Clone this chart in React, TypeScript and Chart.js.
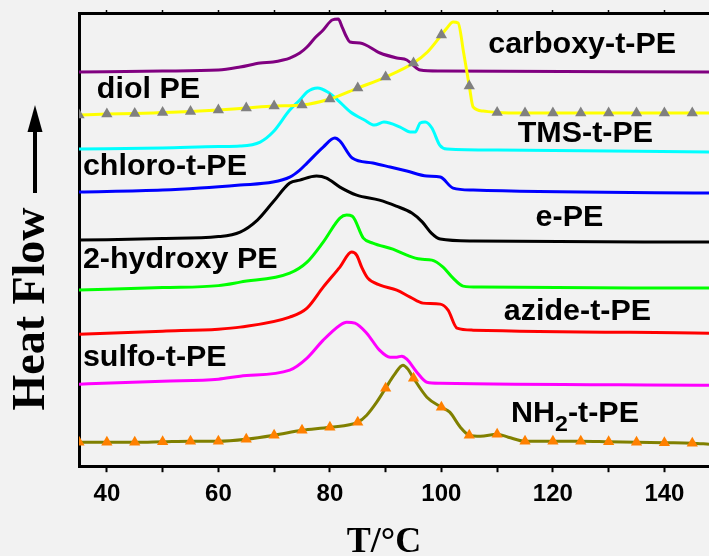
import React, { useEffect, useRef } from 'react';
import { Chart, registerables } from 'chart.js';

Chart.register(...registerables);

type Pt = [number, number];

// T (°C) vs heat flow (arbitrary, stacked offsets)
const carboxyTPE: Pt[] = [[35,394],[50,395],[60,396],[63.9,399],[67.5,403],[69.8,404],[71.6,406],[72.8,408],[74.6,413],[75.9,419],[77.3,428],[78.8,436],[80.4,446],[81.5,447],[82.2,439],[82.9,430],[83.6,424],[85.4,423],[89,413],[92,408],[93.8,406],[94.9,401],[96.2,396],[99.8,395],[148,394]];
const diolPE: Pt[] = [[35,351],[40,352],[45,352.5],[50,353.5],[55,354.5],[60,356],[65,358],[70,360],[75,361],[80,367],[85,378],[90,389],[95,403],[97.5,414],[100,431],[101,438],[102.1,444],[103,443],[104,413],[105,380],[105.7,359],[107.5,355],[110,353.5],[115,353],[120,353],[125,353],[130,353],[135,353],[140,353],[145,353],[148,353]];
const tmsTPE: Pt[] = [[35,317],[50,318],[60,319.5],[63.9,320],[67.5,324],[69.8,334],[72.8,356],[74.6,366],[75.9,374],[77.8,378],[79.6,374],[81.4,366],[83.7,354],[86.2,346],[88,341],[89.7,344],[92.6,339],[94.4,334],[95.3,334],[96.2,343],[97.1,344],[98.3,338],[99.7,321],[101,317],[110,316],[148,314]];
const chloroTPE: Pt[] = [[35,274],[50,276],[56.7,278],[63.9,281],[69.8,284],[72.8,289],[74.6,296],[75.9,303],[78.8,319],[80.9,328],[81.8,325],[84,308],[87.7,303],[90.8,299],[93.8,295],[97.4,290],[99.8,289],[102.1,278],[105.7,276],[148,273]];
const ePE: Pt[] = [[35,226],[50,227.5],[60,229.5],[63.9,234],[67,246],[69.8,264],[72.8,283],[74.6,286],[77.6,290],[79.4,288],[81.8,279],[84.8,271],[88.9,266],[91.9,260],[94.7,253],[96.6,244],[98.2,233],[99.8,227],[105.7,225],[148,224]];
const hydroxyPE: Pt[] = [[35,176],[50,178.5],[60,180.5],[63.9,184],[72.8,193],[75.9,204],[78.8,224],[81.8,248],[83,251],[84,250],[86,228],[87.7,223],[91.3,217],[93.8,211],[96.2,207],[98.3,206],[100.3,199],[102.1,188],[103.9,180],[107,179],[148,178]];
const azideTPE: Pt[] = [[35,132],[50,135],[60,137],[63.9,139],[72.8,149],[75.9,158],[78.8,179],[81.8,199],[83.9,214],[84.8,211],[85.7,199],[86.8,188],[89,181],[92,176],[94.4,169],[96.7,163],[99.8,162],[101.2,156],[102.8,138],[105.7,136],[148,133]];
const sulfoTPE: Pt[] = [[35,82],[50,85],[60,87],[63.9,90],[72.8,96],[75.9,108],[78.8,126],[81.8,141],[83,144],[84.5,143],[86.6,133],[88.9,116],[90.8,109],[92,109],[92.9,110],[93.8,107],[95.6,94],[97.4,84],[99.8,83],[148,81]];
const nh2TPE: Pt[] = [[35,24],[40,24],[45,24],[50,24.5],[55,25],[60,25],[65,27],[70,31],[75,36],[80,39],[85,44],[86.6,51],[88.4,64],[90,78],[91.5,91],[93.1,101],[94,97],[95,88],[97.4,69],[100,59],[101.5,54],[103.4,39],[105,31],[107,30],[110,32],[112,29],[115,25],[120,25],[125,25],[130,24.5],[135,24],[140,23.5],[145,23],[148,22]];

const xLabelTicks = [40, 60, 80, 100, 120, 140];
const xRange = [35, 148];
const yRange = [0, 453];

const seriesNames = ['carboxy-t-PE', 'diol PE', 'TMS-t-PE', 'chloro-t-PE', 'e-PE', '2-hydroxy PE', 'azide-t-PE', 'sulfo-t-PE', 'NH2-t-PE'];
const seriesData = [carboxyTPE, diolPE, tmsTPE, chloroTPE, ePE, hydroxyPE, azideTPE, sulfoTPE, nh2TPE];
const seriesColors = ['#800080', '#ffff00', '#00ffff', '#0000ff', '#000000', '#00ff00', '#ff0000', '#ff00ff', '#808000'];
const markerColors: (string | null)[] = [null, '#808080', null, null, null, null, null, null, '#ff8000'];

// curve label anchors (left x in °C, baseline in heat-flow units)
const curveLabels = [
  { parts: [{ t: 'carboxy-t-PE' }], x: 108.4, y: 413 },
  { parts: [{ t: 'diol PE' }], x: 38.2, y: 368 },
  { parts: [{ t: 'TMS-t-PE' }], x: 113.7, y: 324 },
  { parts: [{ t: 'chloro-t-PE' }], x: 35.7, y: 291 },
  { parts: [{ t: 'e-PE' }], x: 116.9, y: 240 },
  { parts: [{ t: '2-hydroxy PE' }], x: 35.7, y: 198 },
  { parts: [{ t: 'azide-t-PE' }], x: 111.2, y: 146 },
  { parts: [{ t: 'sulfo-t-PE' }], x: 35.7, y: 100 },
  { parts: [{ t: 'NH' }, { t: '2', sub: true }, { t: '-t-PE' }], x: 112.5, y: 44 },
];
const LABEL_SIZE = 29;
const LABEL_STRETCH = 1.05;

const SANS = '"Liberation Sans", Arial, sans-serif';
const SERIF = '"Liberation Serif", "Times New Roman", serif';

const decor = {
  id: 'decor',
  beforeDraw(chart: any) {
    const { ctx, width, height } = chart;
    ctx.save();
    ctx.fillStyle = '#f2f2f2';
    ctx.fillRect(0, 0, width, height);
    ctx.restore();
  },
  afterDraw(chart: any) {
    const { ctx } = chart;
    const xs = chart.scales.x;
    const ys = chart.scales.y;
    ctx.save();
    ctx.fillStyle = '#000';
    ctx.textBaseline = 'alphabetic';
    ctx.textAlign = 'left';
    for (const l of curveLabels) {
      const px0 = xs.getPixelForValue(l.x);
      const py = ys.getPixelForValue(l.y);
      ctx.save();
      ctx.translate(px0, py);
      ctx.scale(LABEL_STRETCH, 1);
      let px = 0;
      for (const p of l.parts as any[]) {
        const size = p.sub ? Math.round(LABEL_SIZE * 0.75) : LABEL_SIZE;
        ctx.font = `bold ${size}px ${SANS}`;
        ctx.fillText(p.t, px, p.sub ? 9 : 0);
        px += ctx.measureText(p.t).width;
      }
      ctx.restore();
    }
    // x title
    ctx.font = `bold 36px ${SERIF}`;
    ctx.textAlign = 'center';
    ctx.fillText('T/°C', 384, 552);
    // y title
    ctx.save();
    ctx.translate(44, 309);
    ctx.rotate(-Math.PI / 2);
    ctx.font = `bold 46px ${SERIF}`;
    ctx.textAlign = 'center';
    ctx.fillText('Heat Flow', 0, 0);
    ctx.restore();
    // arrow
    ctx.fillRect(33, 126, 4, 67);
    ctx.beginPath();
    ctx.moveTo(35, 105);
    ctx.lineTo(42.5, 132);
    ctx.lineTo(27.5, 132);
    ctx.closePath();
    ctx.fill();
    ctx.restore();
  },
};

const noSidePadding = (s: any) => {
  s.paddingLeft = 0;
  s.paddingRight = 0;
};

export default function App() {
  const ref = useRef<HTMLCanvasElement | null>(null);
  useEffect(() => {
    document.body.style.margin = '0';
    document.body.style.background = '#f2f2f2';
    const canvas = ref.current;
    if (!canvas) return;
    const datasets = seriesData.map((d, i) => ({
      label: seriesNames[i],
      data: d.map(([x, y]) => ({ x, y })),
      borderColor: seriesColors[i],
      backgroundColor: markerColors[i] || seriesColors[i],
      borderWidth: 3,
      cubicInterpolationMode: 'monotone' as const,
      pointStyle: 'triangle' as const,
      pointBackgroundColor: markerColors[i] || seriesColors[i],
      pointBorderWidth: 0,
      pointRadius: markerColors[i]
        ? (c: any) => (c.raw && Math.abs(c.raw.x % 5) < 1e-6 ? 6.5 : 0)
        : 0,
      pointHoverRadius: 0,
      fill: false,
      order: markerColors[i] ? 0 : 1,
    }));
    const chart = new Chart(canvas, {
      type: 'line',
      data: { datasets },
      options: {
        animation: false,
        responsive: false,
        devicePixelRatio: 1,
        layout: { autoPadding: false, padding: { left: 79, top: 10, right: 0, bottom: 39 } },
        plugins: { legend: { display: false }, tooltip: { enabled: false } },
        scales: {
          x: {
            type: 'linear',
            position: 'bottom',
            min: xRange[0],
            max: xRange[1],
            afterFit: noSidePadding,
            grid: { display: true, drawOnChartArea: false, drawTicks: true, tickLength: 6, tickWidth: 2, tickColor: '#000' },
            border: { display: true, color: '#000', width: 3 },
            ticks: {
              stepSize: 10,
              includeBounds: false,
              autoSkip: false,
              maxRotation: 0,
              padding: 8,
              color: '#000',
              font: { family: SANS, size: 24, weight: 'bold' },
              callback: (v: any) => (xLabelTicks.includes(Number(v)) ? String(v) : ''),
            },
          },
          xTop: {
            type: 'linear',
            position: 'top',
            min: xRange[0],
            max: xRange[1],
            afterFit: noSidePadding,
            grid: { display: true, drawOnChartArea: false, drawTicks: true, tickLength: 3, tickWidth: 1.5, tickColor: '#000' },
            border: { display: true, color: '#000', width: 3 },
            ticks: { display: false, stepSize: 10, includeBounds: false, autoSkip: false },
          },
          y: {
            type: 'linear',
            min: yRange[0],
            max: yRange[1],
            grid: { display: false, drawTicks: false },
            border: { display: true, color: '#000', width: 3 },
            ticks: { display: false },
          },
        },
      },
      plugins: [decor],
    } as any);
    return () => chart.destroy();
  }, []);
  return <canvas ref={ref} width={709} height={556} style={{ display: 'block' }} />;
}
